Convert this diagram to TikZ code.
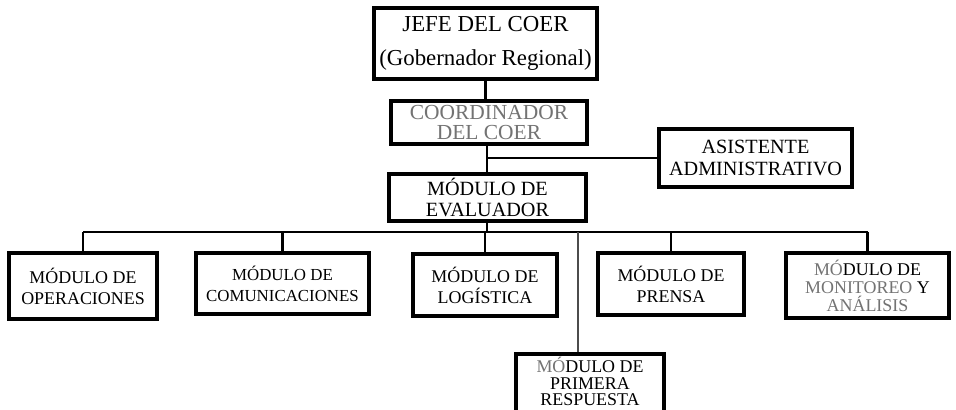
\documentclass[tikz,border=0pt]{standalone}
\usepackage{fontspec}
\setmainfont{Liberation Serif}
\usepackage{tikz}
\usetikzlibrary{calc,positioning}

\begin{document}
\begin{tikzpicture}[x=0.02cm,y=-0.02cm,
  box/.style={draw,line width=2.2pt,align=center,inner sep=1pt,font=\fontsize{10.2}{12}\selectfont},
  link/.style={line width=1.4pt}]
\clip (0,0) rectangle (956,409);
\fill[white] (0,0) rectangle (956,409);
% jerarquia superior
\node[box,minimum width=4.45cm,minimum height=1.42cm,font=\fontsize{13}{19}\selectfont] (jefe) at (485.5,43.5) {JEFE DEL COER\\(Gobernador Regional)};
\node[box,minimum width=3.92cm,minimum height=0.86cm,font=\fontsize{12.2}{11.8}\selectfont,text=black!55] (coord) at (489,122.5) {COORDINADOR\\DEL COER};
\node[box,minimum width=3.86cm,minimum height=1.16cm,font=\fontsize{11.5}{12}\selectfont] (asist) at (755.5,158) {ASISTENTE\\ADMINISTRATIVO};
\node[box,minimum width=3.94cm,minimum height=0.94cm,font=\fontsize{11.5}{12}\selectfont] (eval) at (487.5,197.5) {MÓDULO DE\\EVALUADOR};
% modulos
\node[box,minimum width=2.96cm,minimum height=1.32cm] (oper) at (83,286) {MÓDULO DE\\OPERACIONES};
\node[box,minimum width=3.46cm,minimum height=1.22cm,font=\fontsize{9.6}{12}\selectfont] (comu) at (282.5,283.5) {MÓDULO DE\\COMUNICACIONES};
\node[box,minimum width=2.88cm,minimum height=1.24cm] (logi) at (485,285) {MÓDULO DE\\LOGÍSTICA};
\node[box,minimum width=2.92cm,minimum height=1.24cm] (prensa) at (671,284) {MÓDULO DE\\PRENSA};
\node[box,minimum width=3.26cm,minimum height=1.3cm,font=\fontsize{10.2}{10.3}\selectfont] (moni) at (867.5,285.5) {\textcolor{black!55}{MÓ}DULO DE\\\textcolor{black!55}{MONITOREO} Y\\\textcolor{black!55}{ANÁLISIS}};
\node[box,minimum width=2.96cm,anchor=north,inner sep=2pt,text depth=0.6cm,font=\fontsize{10.2}{9.4}\selectfont] (prim) at (590,352) {\textcolor{black!55}{MÓ}DULO DE\\PRIMERA\\RESPUESTA};
% conectores
\coordinate (bus) at (487,232);
\coordinate (as) at (487,158);
\coordinate (pr) at (578,232);
\draw[link] (jefe.south) -- (jefe.south |- coord.north);
\draw[link] (coord.south -| as) -- (eval.north -| as);
\draw[link] (as) -- (asist.west);
\draw[link] (eval.south -| bus) -- (bus);
\draw[link] (oper.north |- bus) -- (moni.north |- bus);
\foreach \m in {oper,comu,logi,prensa,moni}
  \draw[link] (\m.north |- bus) -- (\m.north);
\draw[line width=0.7pt,black!70] (pr) -- (prim.north -| pr);
\end{tikzpicture}
\end{document}
